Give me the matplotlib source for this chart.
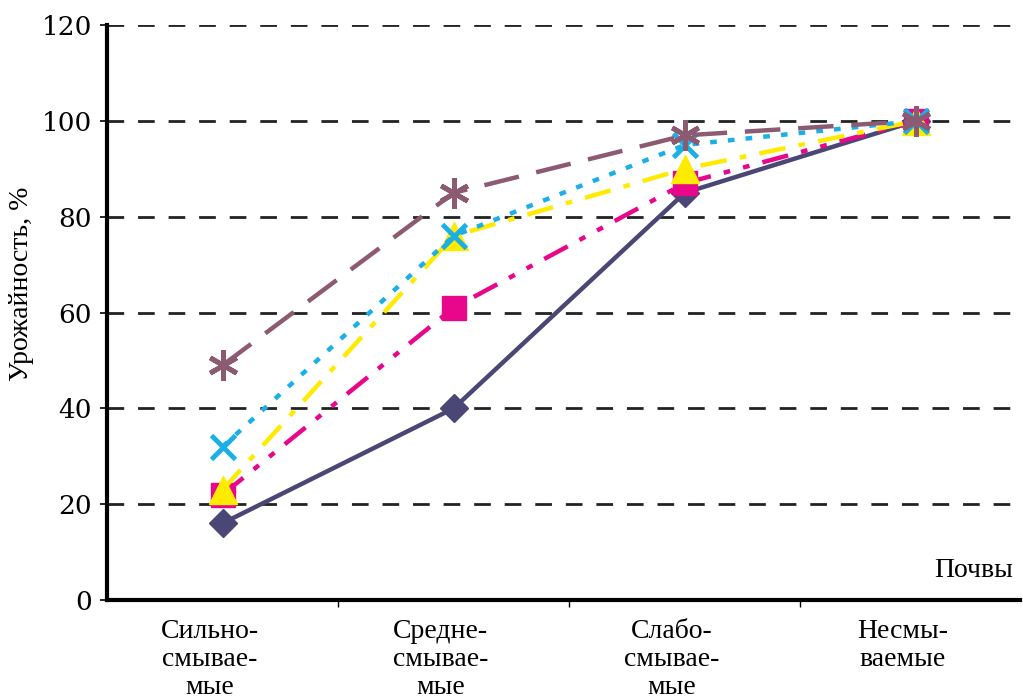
import matplotlib.pyplot as plt
import matplotlib.transforms as mtransforms
from matplotlib.ticker import FixedLocator

plt.rcParams['font.family'] = ['Liberation Serif', 'DejaVu Serif']

categories = ['Сильно-\nсмывае-\nмые', 'Средне-\nсмывае-\nмые',
              'Слабо-\nсмывае-\nмые', 'Несмы-\nваемые']
navy = [16, 40, 85, 100]
magenta = [22, 61, 87, 100]
yellow = [23, 76, 90, 100]
cyan = [32, 76, 95, 100]
mauve = [49, 85, 97, 100]

x = list(range(len(categories)))

fig = plt.figure(figsize=(10.23, 7), dpi=100)
ax = fig.add_axes([0.1046, 0.143, 0.8924, 0.821])

for y in range(20, 121, 20):
    ax.axhline(y, color='#222222', linestyle=(0, (6, 5)), linewidth=2, zorder=1)

ax.plot(x, mauve, color='#8C5B72', linewidth=3.2, linestyle=(0, (8, 4)),
        marker=(6, 2, 0), markersize=22, markeredgewidth=3.5, zorder=6)
ax.plot(x, cyan, color='#1AAFE6', linewidth=3.2, linestyle=(0, (1.5, 2.5)),
        marker='x', markersize=17, markeredgewidth=3.5, zorder=5)
ax.plot(x, yellow, color='#FFEB00', linewidth=3.2, linestyle=(0, (6, 3, 1.5, 3)),
        marker='^', markersize=20, zorder=4)
ax.plot(x, magenta, color='#E8068A', linewidth=3.2,
        linestyle=(0, (6, 3, 1.5, 3, 1.5, 3)),
        marker='s', markersize=17, zorder=3)
ax.plot(x, navy, color='#4A4776', linewidth=3.2, linestyle='-',
        marker='D', markersize=14, zorder=2)

ax.set_xlim(-0.5, 3.45)
ax.set_ylim(0, 120)
ax.set_yticks(range(0, 121, 20))
ax.set_yticklabels([str(v) for v in range(0, 121, 20)], fontsize=19,
                   family=['DejaVu Serif'])
ax.tick_params(axis='y', length=5, width=1.2, direction='out', pad=6)

ax.set_xticks(x)
ax.set_xticklabels(categories, fontsize=20, linespacing=1.15)
ax.tick_params(axis='x', length=0, pad=14)
shift = mtransforms.ScaledTranslation(-0.13, 0, fig.dpi_scale_trans)
for lab in ax.get_xticklabels():
    lab.set_transform(lab.get_transform() + shift)
ax.xaxis.set_minor_locator(FixedLocator([0.5, 1.5, 2.5]))
ax.tick_params(axis='x', which='minor', length=5, width=1, direction='out')

for s in ['top', 'right']:
    ax.spines[s].set_visible(False)
for s in ['left', 'bottom']:
    ax.spines[s].set_linewidth(3)

ax.set_ylabel('Урожайность, %', fontsize=20)
ax.yaxis.set_label_coords(-0.08, 0.55)
ax.text(3.42, 3.5, 'Почвы', fontsize=20, ha='right', va='bottom')

fig.savefig('out.png', dpi=100)
